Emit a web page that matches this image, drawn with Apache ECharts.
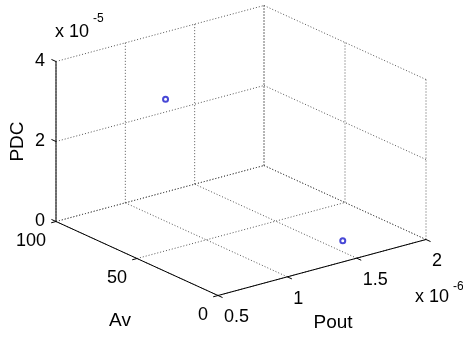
<!DOCTYPE html>
<html>
<head>
<meta charset="utf-8">
<script src="https://cdn.jsdelivr.net/npm/echarts@6/dist/echarts.min.js"></script>
<style>
  html, body { margin: 0; padding: 0; background: #fff; }
  #chart { width: 463px; height: 340px; }
</style>
</head>
<body>
<div id="chart"></div>
<script>
// Axis ticks
const poutTicks = [0.5e-6, 1.0e-6, 1.5e-6, 2.0e-6];
const poutTickLabels = ['0.5', '1', '1.5', '2'];
const avTicks = [0, 50, 100];
const avTickLabels = ['0', '50', '100'];
const pdcTicks = [0, 2e-5, 4e-5];
const pdcTickLabels = ['0', '2', '4'];

// Design points
const poutValues = [1.29e-6, 1.61e-6];
const avValues = [100, 18];
const pdcValues = [2.32e-5, 0];

const W = 463, H = 340;

// Orthographic view of the axis box: screen position of the (min, min, min)
// corner and the on-screen extent of each axis.
const ORIGIN = [218, 295.5];
const DIR_POUT = [208, -56];
const DIR_AV = [-162, -74];
const DIR_PDC = [0, -160];
const TICK_LEN = 5;

const pMin = poutTicks[0], pMax = poutTicks[poutTicks.length - 1];
const aMin = avTicks[0], aMax = avTicks[avTicks.length - 1];
const zMin = pdcTicks[0], zMax = pdcTicks[pdcTicks.length - 1];

function project(p, a, z) {
  const u = (p - pMin) / (pMax - pMin);
  const v = (a - aMin) / (aMax - aMin);
  const w = (z - zMin) / (zMax - zMin);
  return [
    ORIGIN[0] + u * DIR_POUT[0] + v * DIR_AV[0] + w * DIR_PDC[0],
    ORIGIN[1] + u * DIR_POUT[1] + v * DIR_AV[1] + w * DIR_PDC[1]
  ];
}
function unit(d, s) {
  const l = Math.hypot(d[0], d[1]);
  return [s * d[0] / l, s * d[1] / l];
}

// Grid lines on the back walls and the floor, then the three axis lines.
const segs = [];
function addSeg(a, b, kind) {
  const p1 = project(a[0], a[1], a[2]);
  const p2 = project(b[0], b[1], b[2]);
  segs.push({ v: [p1[0], p1[1], p2[0], p2[1]], kind: kind });
}
poutTicks.forEach(p => addSeg([p, aMax, zMin], [p, aMax, zMax], 'grid'));
pdcTicks.forEach(z => addSeg([pMin, aMax, z], [pMax, aMax, z], 'grid'));
avTicks.forEach(a => addSeg([pMax, a, zMin], [pMax, a, zMax], 'grid'));
pdcTicks.forEach(z => addSeg([pMax, aMin, z], [pMax, aMax, z], 'grid'));
poutTicks.forEach(p => addSeg([p, aMin, zMin], [p, aMax, zMin], 'grid'));
avTicks.forEach(a => addSeg([pMin, a, zMin], [pMax, a, zMin], 'grid'));
addSeg([pMin, aMax, zMin], [pMin, aMax, zMax], 'axis');
addSeg([pMin, aMin, zMin], [pMin, aMax, zMin], 'axis');
addSeg([pMin, aMin, zMin], [pMax, aMin, zMin], 'axis');

// Tick marks, pointing out of the box
function addTick(pt, dir) {
  const p1 = project(pt[0], pt[1], pt[2]);
  const d = unit(dir, TICK_LEN);
  segs.push({ v: [p1[0], p1[1], p1[0] + d[0], p1[1] + d[1]], kind: 'axis' });
}
pdcTicks.forEach(z => addTick([pMin, aMax, z], DIR_AV));
avTicks.forEach(a => addTick([pMin, a, zMin], [-DIR_POUT[0], -DIR_POUT[1]]));
poutTicks.forEach(p => addTick([p, aMin, zMin], [-DIR_AV[0], -DIR_AV[1]]));

// Text: tick labels, exponents and axis titles
const FONT = 'Liberation Sans, Arial, Helvetica, sans-serif';
const texts = [];
function addText(pt, dx, dy, text, size, align, rotate) {
  const p = project(pt[0], pt[1], pt[2]);
  texts.push({ v: [p[0], p[1]], dx, dy, text, size, align, rotate: rotate || 0 });
}
pdcTicks.forEach((z, i) => addText([pMin, aMax, z], -11, 0, pdcTickLabels[i], 18, 'right'));
avTicks.forEach((a, i) => addText([pMin, a, zMin], -10, 20, avTickLabels[i], 18, 'right'));
poutTicks.forEach((p, i) => addText([p, aMin, zMin], 6, 22, poutTickLabels[i], 18, 'left'));
addText([pMin, aMax, zMax], -1, -29, 'x 10', 18, 'left');
addText([pMin, aMax, zMax], 37, -42.5, '-5', 12, 'left');
addText([pMax, aMin, zMin], -11, 58, 'x 10', 18, 'left');
addText([pMax, aMin, zMin], 27, 47.5, '-6', 12, 'left');
addText([pMin, aMax, (zMin + zMax) / 2], -38, 0, 'PDC', 19, 'center', Math.PI / 2);
addText([pMin, (aMin + aMax) / 2, zMin], -17, 62, 'Av', 19, 'center');
addText([(pMin + pMax) / 2, aMin, zMin], 11, 55, 'Pout', 19, 'center');

const chart = echarts.init(document.getElementById('chart'), null, { renderer: 'canvas' });
chart.setOption({
  animation: false,
  backgroundColor: '#ffffff',
  grid: { left: 0, top: 0, width: W, height: H, containLabel: false },
  xAxis: { type: 'value', min: 0, max: W, show: false },
  yAxis: { type: 'value', min: 0, max: H, inverse: true, show: false },
  series: [
    {
      type: 'custom',
      silent: true,
      clip: false,
      encode: { x: [0, 2], y: [1, 3] },
      data: segs.map(s => s.v),
      renderItem: function (params, api) {
        const s = segs[params.dataIndex];
        const p1 = api.coord([api.value(0), api.value(1)]);
        const p2 = api.coord([api.value(2), api.value(3)]);
        const grid = s.kind === 'grid';
        return {
          type: 'line',
          shape: { x1: p1[0], y1: p1[1], x2: p2[0], y2: p2[1] },
          style: grid
            ? { stroke: '#555', lineWidth: 1, lineDash: [1, 2] }
            : { stroke: '#000', lineWidth: 1 }
        };
      }
    },
    {
      type: 'scatter',
      silent: true,
      symbol: 'emptyCircle',
      symbolSize: 5,
      itemStyle: { color: '#1a1acc', borderColor: '#1a1acc', borderWidth: 0.8 },
      data: poutValues.map((p, i) => project(p, avValues[i], pdcValues[i]))
    },
    {
      type: 'custom',
      silent: true,
      clip: false,
      encode: { x: 0, y: 1 },
      data: texts.map(t => t.v),
      renderItem: function (params, api) {
        const t = texts[params.dataIndex];
        const p = api.coord([api.value(0), api.value(1)]);
        return {
          type: 'text',
          x: p[0] + t.dx,
          y: p[1] + t.dy,
          rotation: t.rotate,
          style: {
            text: t.text,
            fill: '#000',
            font: t.size + 'px ' + FONT,
            align: t.align,
            verticalAlign: 'middle'
          }
        };
      }
    }
  ]
});
</script>
</body>
</html>
